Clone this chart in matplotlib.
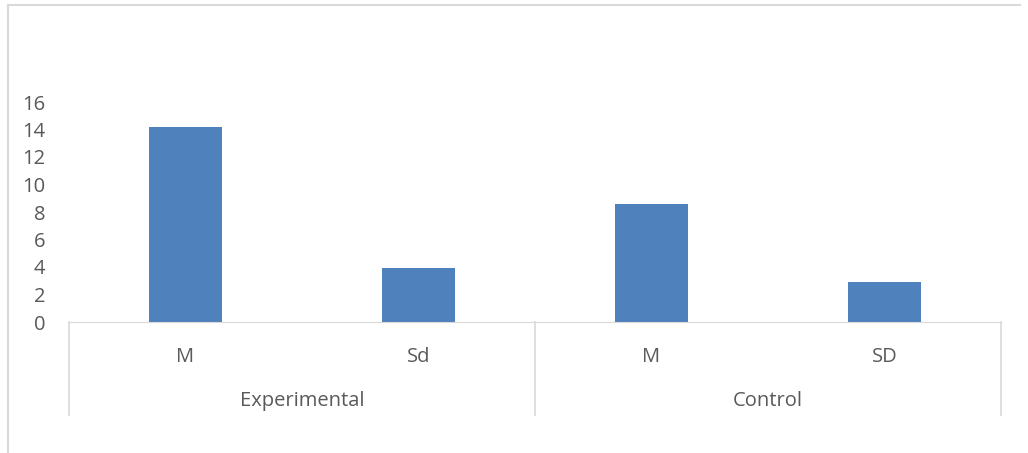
import matplotlib
matplotlib.use('Agg')
import matplotlib.pyplot as plt
from matplotlib.lines import Line2D

# values
groups = ['Experimental', 'Control']
stats = ['M', 'Sd', 'M', 'SD']
values = [14.2, 3.9, 8.6, 2.9]
yticks = [0, 2, 4, 6, 8, 10, 12, 14, 16]

bar_color = '#4f81bd'
text_color = '#595959'
line_color = '#d9d9d9'

plt.rcParams['font.family'] = ['Open Sans', 'DejaVu Sans']

W, H = 1028, 453
fig = plt.figure(figsize=(W / 100, H / 100), dpi=100)
ax = fig.add_axes([69 / W, (H - 322) / H, (1001 - 69) / W, (322 - 102) / H])

x = list(range(len(values)))
ax.bar(x, values, width=0.31, color=bar_color)
ax.set_xlim(-0.5, len(values) - 0.5)
ax.set_ylim(0, 16)
ax.set_yticks(yticks)
ax.set_yticklabels([str(t) for t in yticks], fontsize=14.5, color=text_color)
ax.tick_params(axis='y', length=0, pad=17)
ax.set_xticks([])
for s in ['top', 'right', 'left']:
    ax.spines[s].set_visible(False)
ax.spines['bottom'].set_color(line_color)

# two-level category axis
tr = ax.get_xaxis_transform()
box_bottom = -(415 - 322) / (322 - 102)
for xv in [-0.5, 1.5, 3.5]:
    ax.add_line(Line2D([xv, xv], [0, box_bottom], transform=tr, color=line_color,
                       lw=1.2, clip_on=False))
for i, lab in enumerate(stats):
    ax.text(i, -(357 - 322) / (322 - 102), lab, transform=tr, ha='center', va='center',
            fontsize=14.5, color=text_color)
for g, lab in enumerate(groups):
    ax.text(2 * g + 0.5, -(401 - 322) / (322 - 102), lab, transform=tr, ha='center',
            va='center', fontsize=14.5, color=text_color)

# chart area border
fig.add_artist(Line2D([8 / W, 1020 / W], [1 - 5 / H, 1 - 5 / H], transform=fig.transFigure,
                      color=line_color, lw=1.5))
fig.add_artist(Line2D([8 / W, 8 / W], [0, 1 - 5 / H], transform=fig.transFigure,
                      color=line_color, lw=1.5))

fig.savefig('out.png', dpi=100)
